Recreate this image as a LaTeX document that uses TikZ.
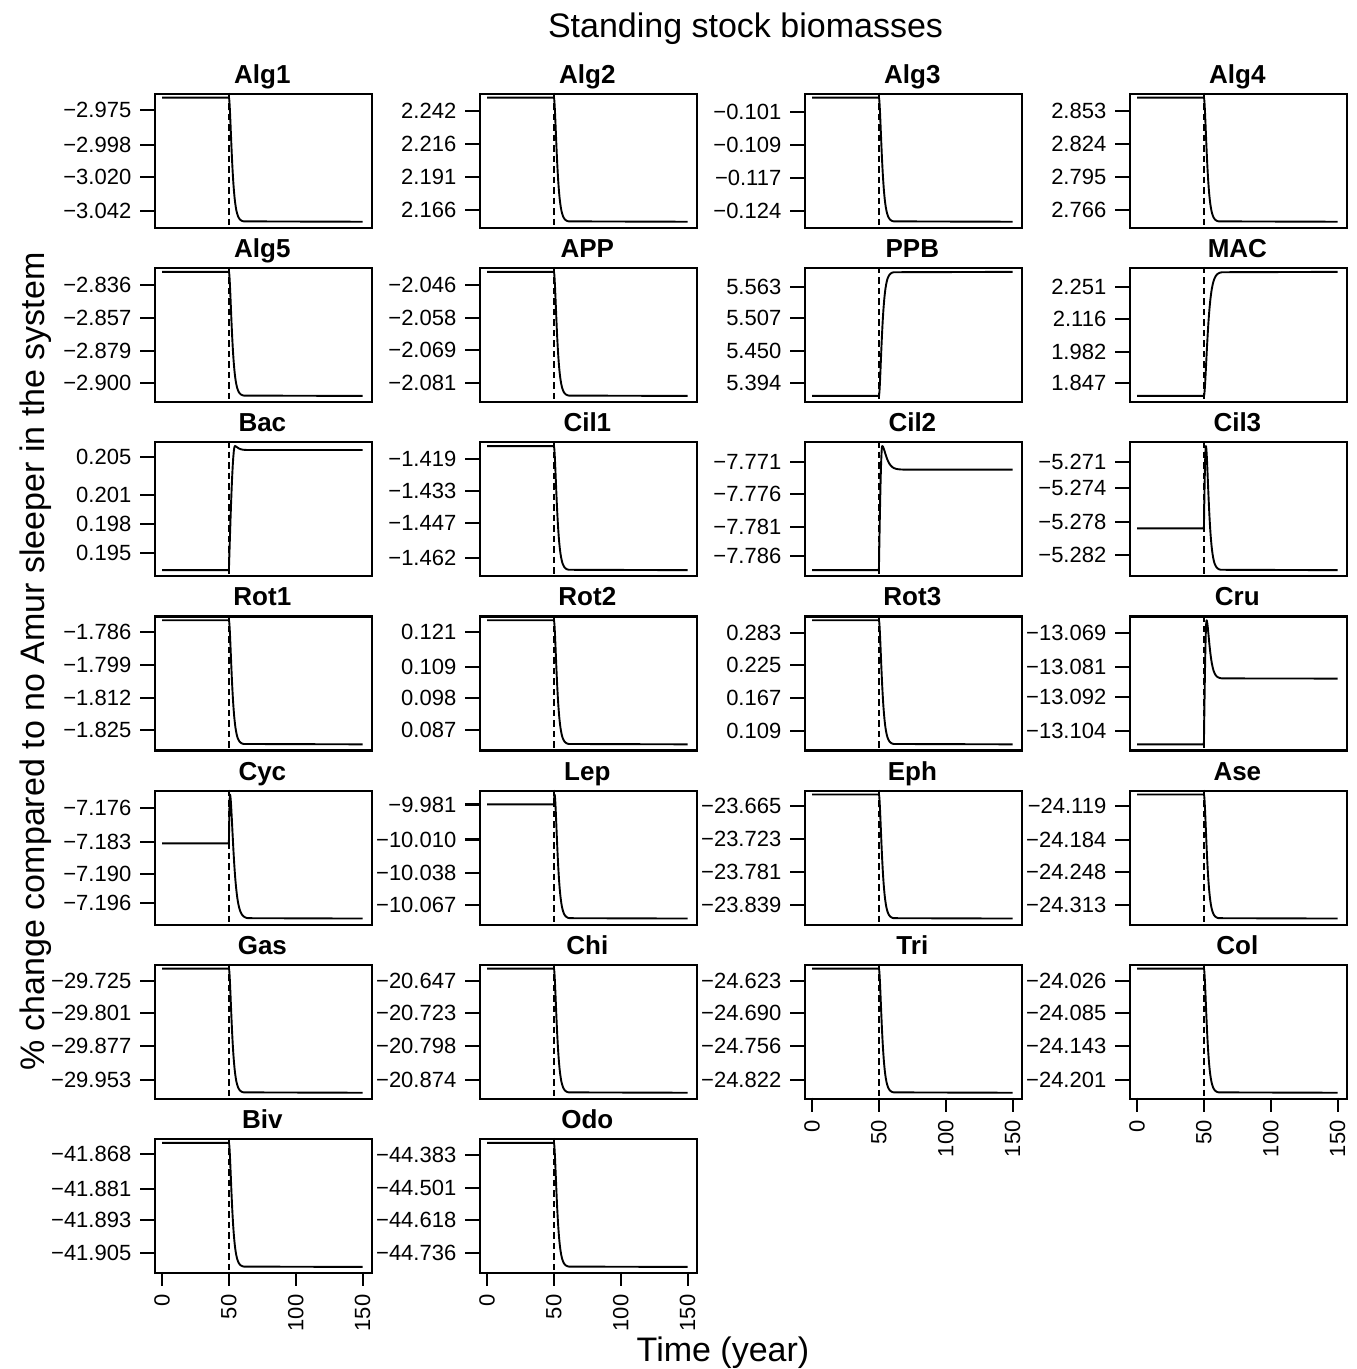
\documentclass[tikz,border=0pt]{standalone}
\usepackage{fontspec}
\setmainfont{Liberation Sans}
\tikzset{
  pframe/.style={draw, line width=2.3pt, minimum width=216.7pt, minimum height=134pt, inner sep=0pt, anchor=north west},
  ptitle/.style={font=\fontsize{26}{30}\selectfont\bfseries, anchor=base, inner sep=0pt},
  ylab/.style={font=\fontsize{22}{24}\selectfont, anchor=east, inner sep=0pt},
  xlab/.style={font=\fontsize{22}{24}\selectfont, anchor=east, rotate=90, inner sep=0pt},
  tk/.style={line width=2.1pt},
  vline/.style={line width=2pt, dash pattern=on 6.5pt off 4pt},
  series/.style={line width=1.9pt, line join=round},
  bigtext/.style={font=\fontsize{34}{40}\selectfont, anchor=base, inner sep=0pt},
}
% panel: name, col, row, title, ticks (offset/label)
\newcommand\pnl[5]{%
  \pgfmathsetmacro\pL{154+325*#2}%
  \pgfmathsetmacro\pT{92.7+174.2*#3}%
  \node[pframe] (#1) at (\pL,\pT) {};
  \node[ptitle] (#1-t) at (\pL+108.35,\pT-9.4) {#4};
  \foreach \yo/\yl [count=\i] in {#5} {
    \draw[tk] (\pL,\pT+\yo) -- (\pL-14,\pT+\yo);
    \node[ylab] (#1-y\i) at (\pL-22.5,\pT+\yo) {\yl};
  }
  \draw[vline] (\pL+74.9,\pT) -- (\pL+74.9,\pT+134);
}
% curve: col, row, u0, peak, peak time, final, tau
\newcommand\crv[7]{%
  \pgfmathsetmacro\cxs{154+325*#1+8.03}%
  \pgfmathsetmacro\cys{-(92.7+174.2*#2+129.03)}%
  \begin{scope}[xshift=\cxs pt, yshift=\cys pt, x=1.3374pt, y=124.07pt]
  \ifdim #5pt>0pt
    \draw[series] (0,#3) -- (50,#3) -- plot[domain=0:#5, samples=12] ({50+\x},{#3+(#4-#3)*sin(90*\x/#5)}) -- plot[domain=0:8*#7, samples=61] ({50+#5+\x},{#6+(#4-#6)*(1+\x/#7)*exp(-\x/#7)}) -- (150,#6);
  \else
    \draw[series] (0,#3) -- (50,#3) -- plot[domain=0:8*#7, samples=61] ({50+\x},{#6+(#3-#6)*(1+\x/#7)*exp(-\x/#7)}) -- (150,#6);
  \fi
  \end{scope}}
% x axis: name, col, row
\newcommand\xax[3]{%
  \pgfmathsetmacro\aL{154+325*#2}%
  \pgfmathsetmacro\aB{92.7+174.2*#3+134}%
  \foreach \tv [count=\i] in {0,50,100,150} {
    \draw[tk] (\aL+8.03+1.3374*\tv,\aB) -- (\aL+8.03+1.3374*\tv,\aB+14);
    \node[xlab] (#1-x\i) at (\aL+8.03+1.3374*\tv,\aB+22.5) {\tv};
  }}
\begin{document}
\begin{tikzpicture}[x=1pt,y=-1pt]
\useasboundingbox (0,0) rectangle (1357,1369);
\node[bigtext] (maintitle) at (745.5,37.5) {Standing stock biomasses};
\node[bigtext] (xtitle) at (723,1361) {Time (year)};
\node[bigtext, rotate=90] (ytitle) at (45,661.5) {\% change compared to no Amur sleeper in the system};
% row 0
\pnl{Alg1}{0}{0}{Alg1}{17.3/−2.975,52.3/−2.998,84/−3.020,118/−3.042}
\crv{0}{0}{1}{1}{0}{0}{1.4}
\pnl{Alg2}{1}{0}{Alg2}{18/2.242,51.3/2.216,84.3/2.191,117.3/2.166}
\crv{1}{0}{1}{1}{0}{0}{1.4}
\pnl{Alg3}{2}{0}{Alg3}{19/−0.101,52.3/−0.109,85/−0.117,118.3/−0.124}
\crv{2}{0}{1}{1}{0}{0}{1.4}
\pnl{Alg4}{3}{0}{Alg4}{18.3/2.853,51.3/2.824,84.3/2.795,117.3/2.766}
\crv{3}{0}{1}{1}{0}{0}{1.4}
% row 1
\pnl{Alg5}{0}{1}{Alg5}{18/−2.836,51/−2.857,84/−2.879,116/−2.900}
\crv{0}{1}{1}{1}{0}{0}{1.4}
\pnl{APP}{1}{1}{APP}{18/−2.046,51/−2.058,83/−2.069,116/−2.081}
\crv{1}{1}{1}{1}{0}{0}{1.4}
\pnl{PPB}{2}{1}{PPB}{19.7/5.563,51.3/5.507,83.7/5.450,115.7/5.394}
\crv{2}{1}{0}{0}{0}{1}{1.4}
\pnl{MAC}{3}{1}{MAC}{19.7/2.251,52.3/2.116,84.7/1.982,115.7/1.847}
\crv{3}{1}{0}{0}{0}{1}{1.7}
% row 2
\pnl{Bac}{0}{2}{Bac}{15.6/0.205,53.9/0.201,83.2/0.198,111.6/0.195}
\crv{0}{2}{0}{1}{4.5}{0.968}{1.5}
\pnl{Cil1}{1}{2}{Cil1}{18/−1.419,50/−1.433,82/−1.447,117/−1.462}
\crv{1}{2}{1}{1}{0}{0}{1.4}
\pnl{Cil2}{2}{2}{Cil2}{20.6/−7.771,53.2/−7.776,85.6/−7.781,115/−7.786}
\crv{2}{2}{0}{1}{2.5}{0.81}{2}
\pnl{Cil3}{3}{2}{Cil3}{21/−5.271,46.6/−5.274,80.6/−5.278,114/−5.282}
\crv{3}{2}{0.337}{1}{1.5}{0}{1.4}
% row 3
\pnl{Rot1}{0}{3}{Rot1}{17/−1.786,50/−1.799,83/−1.812,115/−1.825}
\crv{0}{3}{1}{1}{0}{0}{1.4}
\pnl{Rot2}{1}{3}{Rot2}{16.4/0.121,51.4/0.109,83/0.098,114.7/0.087}
\crv{1}{3}{1}{1}{0}{0}{1.4}
\pnl{Rot3}{2}{3}{Rot3}{17.7/0.283,49.7/0.225,82.7/0.167,115.7/0.109}
\crv{2}{3}{1}{1}{0}{0}{1.4}
\pnl{Cru}{3}{3}{Cru}{17.4/−13.069,52/−13.081,81.4/−13.092,115.4/−13.104}
\crv{3}{3}{0}{1}{2}{0.53}{1.5}
% row 4
\pnl{Cyc}{0}{4}{Cyc}{18.2/−7.176,52.2/−7.183,84.8/−7.190,113.8/−7.196}
\crv{0}{4}{0.606}{1}{0.8}{0}{1.7}
\pnl{Lep}{1}{4}{Lep}{15/−9.981,50/−10.010,83.2/−10.038,115.5/−10.067}
\crv{1}{4}{0.92}{1}{0.5}{0}{1.4}
\pnl{Eph}{2}{4}{Eph}{16.5/−23.665,49.5/−23.723,82.5/−23.781,115.5/−23.839}
\crv{2}{4}{1}{1}{0}{0}{1.4}
\pnl{Ase}{3}{4}{Ase}{16.5/−24.119,50.5/−24.184,82.5/−24.248,115.5/−24.313}
\crv{3}{4}{1}{1}{0}{0}{1.4}
% row 5
\pnl{Gas}{0}{5}{Gas}{17.3/−29.725,49.3/−29.801,82.3/−29.877,116.3/−29.953}
\crv{0}{5}{1}{1}{0}{0}{1.4}
\pnl{Chi}{1}{5}{Chi}{17.3/−20.647,49.3/−20.723,82.3/−20.798,116.3/−20.874}
\crv{1}{5}{1}{1}{0}{0}{1.4}
\pnl{Tri}{2}{5}{Tri}{17.3/−24.623,49.3/−24.690,82.3/−24.756,116.3/−24.822}
\crv{2}{5}{1}{1}{0}{0}{1.4}
\xax{Tri}{2}{5}
\pnl{Col}{3}{5}{Col}{17.3/−24.026,49.3/−24.085,82.3/−24.143,116.3/−24.201}
\crv{3}{5}{1}{1}{0}{0}{1.4}
\xax{Col}{3}{5}
% row 6
\pnl{Biv}{0}{6}{Biv}{16/−41.868,51/−41.881,82/−41.893,115/−41.905}
\crv{0}{6}{1}{1}{0}{0}{1.4}
\xax{Biv}{0}{6}
\pnl{Odo}{1}{6}{Odo}{17/−44.383,50/−44.501,82/−44.618,115/−44.736}
\crv{1}{6}{1}{1}{0}{0}{1.4}
\xax{Odo}{1}{6}
\end{tikzpicture}
\end{document}
